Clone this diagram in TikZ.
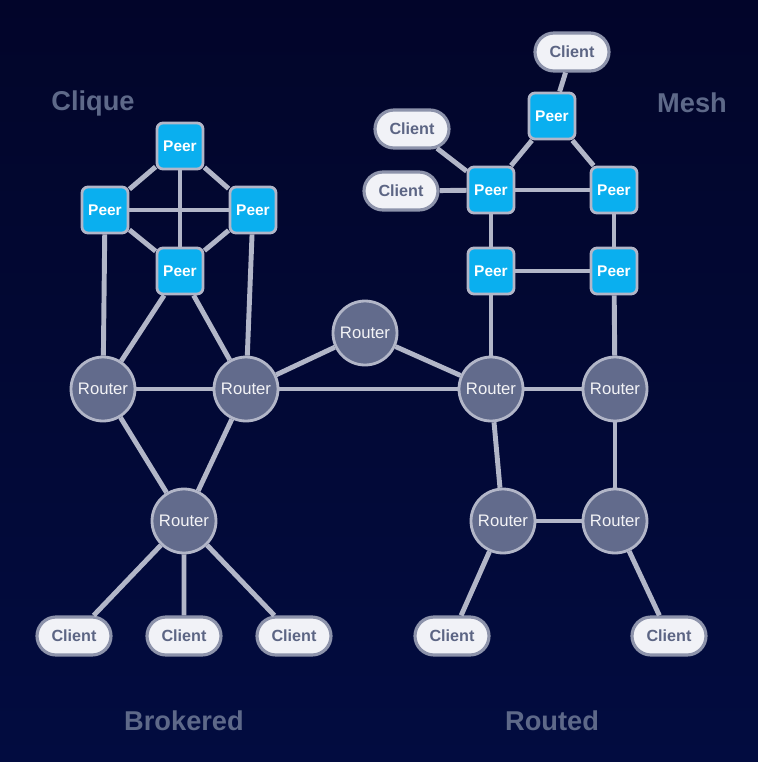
\documentclass[tikz,border=0pt]{standalone}
\usepackage{fontspec}
\setmainfont{Liberation Sans}
\usetikzlibrary{shapes.misc}
\definecolor{bgtop}{HTML}{02052A}
\definecolor{bgbot}{HTML}{020C40}
\definecolor{peerblue}{HTML}{0AAFEF}
\definecolor{routergray}{HTML}{626B8C}
\definecolor{edgegray}{HTML}{B2B6C8}
\definecolor{clientfill}{HTML}{F1F2F7}
\definecolor{clientline}{HTML}{8D93AB}
\definecolor{clienttext}{HTML}{5C6584}
\definecolor{labeltext}{HTML}{5E6989}
\begin{document}
\begin{tikzpicture}
[
 x=0.02cm, y=-0.02cm,
 inner sep=0.5mm,
 PEER/.style={rectangle, rounded corners=1.2mm, draw=edgegray, fill=peerblue, line width=1.6pt,
   minimum size=9.2mm, text=white, font=\fontsize{8.8}{10}\selectfont\bfseries},
 ROUTER/.style={circle, draw=edgegray, fill=routergray, line width=1.6pt,
   minimum size=12.8mm, text=white!92!routergray, font=\fontsize{9.5}{11}\selectfont},
 CLIENT/.style={rounded rectangle, draw=clientline, fill=clientfill, line width=1.8pt,
   minimum width=15.8mm, minimum height=7.6mm, text=clienttext, font=\fontsize{9.2}{11}\selectfont\bfseries},
 TITLE/.style={text=labeltext, font=\fontsize{15.5}{18}\selectfont\bfseries},
 LINK/.style={draw=edgegray, line width=2.8pt},
 ]
%
\fill [top color=bgtop, bottom color=bgbot] (0,0) rectangle (758,762);
\useasboundingbox (0,0) rectangle (758,762);
%
\node [TITLE]  (LCLQ)  at ( 93,103)  {Clique};
\node [TITLE]  (LMSH)  at (692,103)  {Mesh};
\node [TITLE]  (LBRK)  at (184,721)  {Brokered};
\node [TITLE]  (LRTD)  at (552,721)  {Routed};
%
% clique
\node [PEER]  (QN)   at (180,146)  {Peer};
\node [PEER]  (QW)   at (105,210)  {Peer};
\node [PEER]  (QE)   at (253,210)  {Peer};
\node [PEER]  (QS)   at (180,271)  {Peer};
%
% routers
\node [ROUTER]  (RA)   at (103,389)  {Router};
\node [ROUTER]  (RB)   at (246,389)  {Router};
\node [ROUTER]  (RC)   at (365,333)  {Router};
\node [ROUTER]  (RD)   at (491,389)  {Router};
\node [ROUTER]  (RE)   at (615,389)  {Router};
\node [ROUTER]  (RF)   at (184,521)  {Router};
\node [ROUTER]  (RG)   at (503,521)  {Router};
\node [ROUTER]  (RH)   at (615,521)  {Router};
%
% clients
\node [CLIENT]  (CA)   at ( 74,636)  {Client};
\node [CLIENT]  (CB)   at (184,636)  {Client};
\node [CLIENT]  (CC)   at (294,636)  {Client};
\node [CLIENT]  (CD)   at (452,636)  {Client};
\node [CLIENT]  (CE)   at (669,636)  {Client};
%
% mesh
\node [PEER]  (MT)   at (552,116)  {Peer};
\node [PEER]  (MW)   at (491,190)  {Peer};
\node [PEER]  (ME)   at (614,190)  {Peer};
\node [PEER]  (MSW)  at (491,271)  {Peer};
\node [PEER]  (MSE)  at (614,271)  {Peer};
\node [CLIENT]  (CF)   at (572, 52)  {Client};
\node [CLIENT]  (CG)   at (412,129)  {Client};
\node [CLIENT]  (CH)   at (401,191)  {Client};
%
\draw [LINK]  (QN)  -- (QW) ;
\draw [LINK]  (QN)  -- (QE) ;
\draw [LINK]  (QN)  -- (QS) ;
\draw [LINK]  (QW)  -- (QE) ;
\draw [LINK]  (QW)  -- (QS) ;
\draw [LINK]  (QE)  -- (QS) ;
%
\draw [LINK]  (QW)  -- (RA) ;
\draw [LINK]  (QE)  -- (RB) ;
\draw [LINK]  (QS)  -- (RA) ;
\draw [LINK]  (QS)  -- (RB) ;
%
\draw [LINK]  (RA)  -- (RB) ;
\draw [LINK]  (RA)  -- (RF) ;
\draw [LINK]  (RB)  -- (RF) ;
\draw [LINK]  (RF)  -- (CA) ;
\draw [LINK]  (RF)  -- (CB) ;
\draw [LINK]  (RF)  -- (CC) ;
%
\draw [LINK]  (RB)  -- (RC) ;
\draw [LINK]  (RB)  -- (RD) ;
\draw [LINK]  (RC)  -- (RD) ;
%
\draw [LINK]  (RD)  -- (RE) ;
\draw [LINK]  (RD)  -- (RG) ;
\draw [LINK]  (RE)  -- (RH) ;
\draw [LINK]  (RG)  -- (RH) ;
\draw [LINK]  (RG)  -- (CD) ;
\draw [LINK]  (RH)  -- (CE) ;
%
\draw [LINK]  (RD)  -- (MSW) ;
\draw [LINK]  (RE)  -- (MSE) ;
\draw [LINK]  (MSW) -- (MSE) ;
\draw [LINK]  (MW)  -- (MSW) ;
\draw [LINK]  (ME)  -- (MSE) ;
\draw [LINK]  (MW)  -- (ME) ;
\draw [LINK]  (MT)  -- (MW) ;
\draw [LINK]  (MT)  -- (ME) ;
\draw [LINK]  (MT)  -- (CF) ;
\draw [LINK]  (MW)  -- (CG) ;
\draw [LINK]  (MW)  -- (CH) ;
%
\end{tikzpicture}
\end{document}
